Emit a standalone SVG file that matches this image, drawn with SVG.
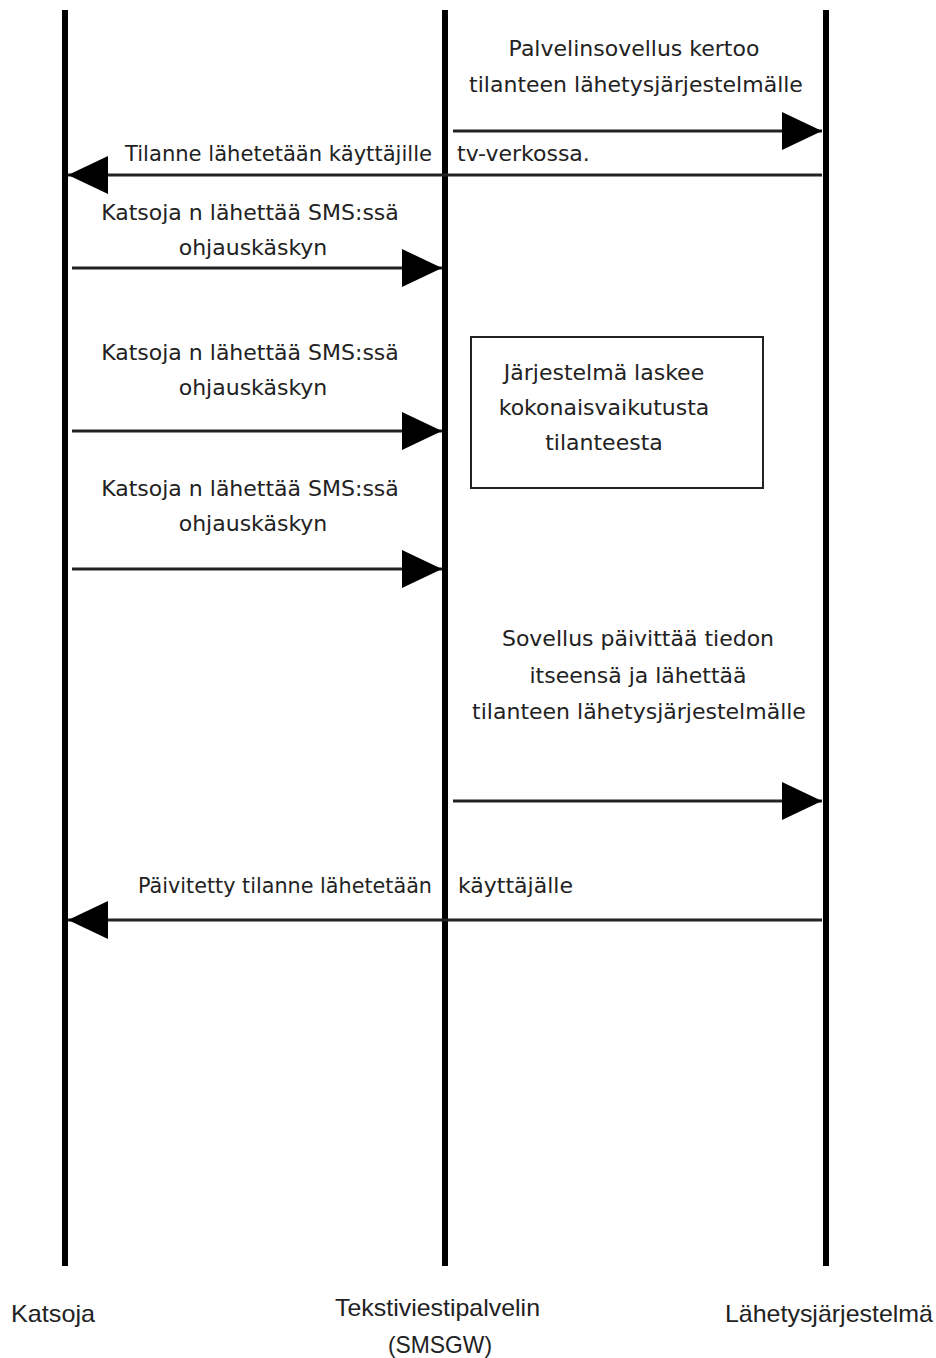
<svg xmlns="http://www.w3.org/2000/svg" width="936" height="1358" viewBox="0 0 936 1358">
<defs>
<style>
.life{stroke:#000;stroke-width:6;fill:none}
.msg{stroke:#222;stroke-width:3;fill:none}
.t{font-family:"DejaVu Sans","Liberation Sans",sans-serif;font-size:22px;fill:#222}
.lbl{font-family:"Liberation Sans","DejaVu Sans",sans-serif;font-size:24px;fill:#222}
.m{text-anchor:middle}
.e{text-anchor:end}
</style>
<marker id="ah" markerUnits="userSpaceOnUse" markerWidth="41" markerHeight="40" refX="40" refY="19" orient="auto">
<path d="M0,0 L40,19 L0,38 Z" fill="#000"/>
</marker>
</defs>
<rect width="936" height="1358" fill="#fff"/>
<g id="katsoja">
<line class="life" x1="65" y1="10" x2="65" y2="1266"/>
<text class="lbl" x="11" y="1322" textLength="84" lengthAdjust="spacingAndGlyphs">Katsoja</text>
</g>
<g id="tekstiviestipalvelin">
<line class="life" x1="445" y1="10" x2="445" y2="1266"/>
<text class="lbl" x="335" y="1316" textLength="205" lengthAdjust="spacingAndGlyphs">Tekstiviestipalvelin</text>
<text class="lbl" x="388" y="1353" textLength="104" lengthAdjust="spacingAndGlyphs">(SMSGW)</text>
</g>
<g id="lahetysjarjestelma">
<line class="life" x1="826" y1="10" x2="826" y2="1266"/>
<text class="lbl" x="725" y="1322" textLength="208" lengthAdjust="spacingAndGlyphs">Lähetysjärjestelmä</text>
</g>
<g id="laskenta">
<rect x="471" y="337" width="292" height="151" fill="none" stroke="#222" stroke-width="2"/>
<text class="t m" x="604" y="380">Järjestelmä laskee</text>
<text class="t m" x="604" y="415">kokonaisvaikutusta</text>
<text class="t m" x="604" y="450">tilanteesta</text>
</g>
<g id="connectors">
<line class="msg" x1="453" y1="131" x2="822" y2="131" marker-end="url(#ah)"/>
<line class="msg" x1="822" y1="175" x2="68" y2="175" marker-end="url(#ah)"/>
<line class="msg" x1="72" y1="268" x2="442" y2="268" marker-end="url(#ah)"/>
<line class="msg" x1="72" y1="431" x2="442" y2="431" marker-end="url(#ah)"/>
<line class="msg" x1="72" y1="569" x2="442" y2="569" marker-end="url(#ah)"/>
<line class="msg" x1="453" y1="801" x2="822" y2="801" marker-end="url(#ah)"/>
<line class="msg" x1="822" y1="920" x2="68" y2="920" marker-end="url(#ah)"/>
<text class="t m" x="634" y="56">Palvelinsovellus kertoo</text>
<text class="t m" x="636" y="92">tilanteen lähetysjärjestelmälle</text>
<text class="t e" x="432" y="161" textLength="307" lengthAdjust="spacingAndGlyphs">Tilanne lähetetään käyttäjille</text>
<text class="t" x="457" y="161">tv-verkossa.</text>
<text class="t m" x="250" y="220">Katsoja n lähettää SMS:ssä</text>
<text class="t m" x="253" y="255">ohjauskäskyn</text>
<text class="t m" x="250" y="360">Katsoja n lähettää SMS:ssä</text>
<text class="t m" x="253" y="395">ohjauskäskyn</text>
<text class="t m" x="250" y="496">Katsoja n lähettää SMS:ssä</text>
<text class="t m" x="253" y="531">ohjauskäskyn</text>
<text class="t m" x="638" y="646">Sovellus päivittää tiedon</text>
<text class="t m" x="638" y="683">itseensä ja lähettää</text>
<text class="t m" x="639" y="719">tilanteen lähetysjärjestelmälle</text>
<text class="t e" x="432" y="893" textLength="294" lengthAdjust="spacingAndGlyphs">Päivitetty tilanne lähetetään</text>
<text class="t" x="458" y="893">käyttäjälle</text>
</g>
</svg>
